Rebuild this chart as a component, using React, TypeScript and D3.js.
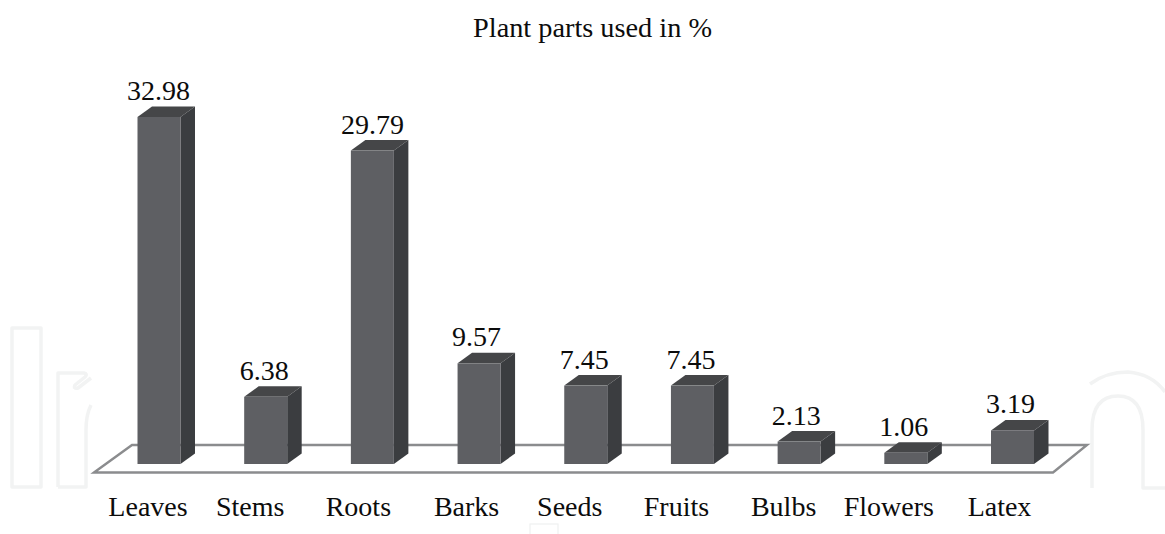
import React from "react";
import * as d3 from "d3";

const title = "Plant parts used in %";
const categories = ["Leaves", "Stems", "Roots", "Barks", "Seeds", "Fruits", "Bulbs", "Flowers", "Latex"];
const values = [32.98, 6.38, 29.79, 9.57, 7.45, 7.45, 2.13, 1.06, 3.19];
const labels = ["32.98", "6.38", "29.79", "9.57", "7.45", "7.45", "2.13", "1.06", "3.19"];

const W = 1165, H = 534;
const baseY = 464, barW = 43, dx = 14.5, dy = 10.5;
const x = d3.scaleLinear().domain([0, categories.length - 1]).range([137.5, 991]);
const y = d3.scaleLinear().domain([0, 32.98]).range([baseY, 117]);
const font = '"Liberation Serif", "Times New Roman", serif';
const catOffset = [10.5, 6, 7.5, 9, 5.5, 5.5, 6, 4.5, 8.5];
const valOffset = [21, 20, 21.5, 19, 20, 20, 18.5, 19.5, 19.5];
const poly = (p: number[][]) => d3.line()(p as [number, number][]) + "Z";

export default function App() {
  return (
    <svg width={W} height={H} style={{ position: "absolute", left: 0, top: 0, background: "#fff" }} fontFamily={font}>
      <g fill="none" stroke="#f2f3f3" strokeWidth={3.5} strokeLinejoin="round">
        <path d="M12 328H41V487H12Z" />
        <path d="M58 487V373H84Q88 374 85 377L75 385Q73 389 78 388L91 378M91 405Q86 415 86 430V487H58" />
        <path d="M1092 488V430Q1092 396 1118 396Q1143 396 1143 430V488H1165" />
        <path d="M1090 384Q1106 372 1128 372Q1152 374 1165 392" />
        <path d="M530 534V524H558V534" strokeWidth={1.5} />
      </g>
      <path d={poly([[94, 472.5], [132, 445], [1087, 445], [1053, 472.5]])} fill="#fff" stroke="#8b8c8e" strokeWidth={2.4} />
      <text x={592.5} y={37} fontSize={28.3} textAnchor="middle" fill="#0c0c0c">{title}</text>
      {categories.map((c, i) => {
        const x0 = x(i), x1 = x0 + barW, yt = y(values[i]);
        return (
          <g key={c}>
            <path d={poly([[x0, yt], [x0 + dx, yt - dy], [x1 + dx, yt - dy], [x1, yt]])} fill="#454648" />
            <path d={poly([[x1, yt], [x1 + dx, yt - dy], [x1 + dx, baseY - dy], [x1, baseY]])} fill="#3b3d40" />
            <rect x={x0} y={yt} width={barW} height={baseY - yt} fill="#5e5f63" />
            <text x={x0 + valOffset[i]} y={yt - 17} fontSize={28} textAnchor="middle" fill="#0c0c0c">{labels[i]}</text>
            <text x={x0 + catOffset[i]} y={516} fontSize={28} textAnchor="middle" fill="#0c0c0c">{c}</text>
          </g>
        );
      })}
    </svg>
  );
}
